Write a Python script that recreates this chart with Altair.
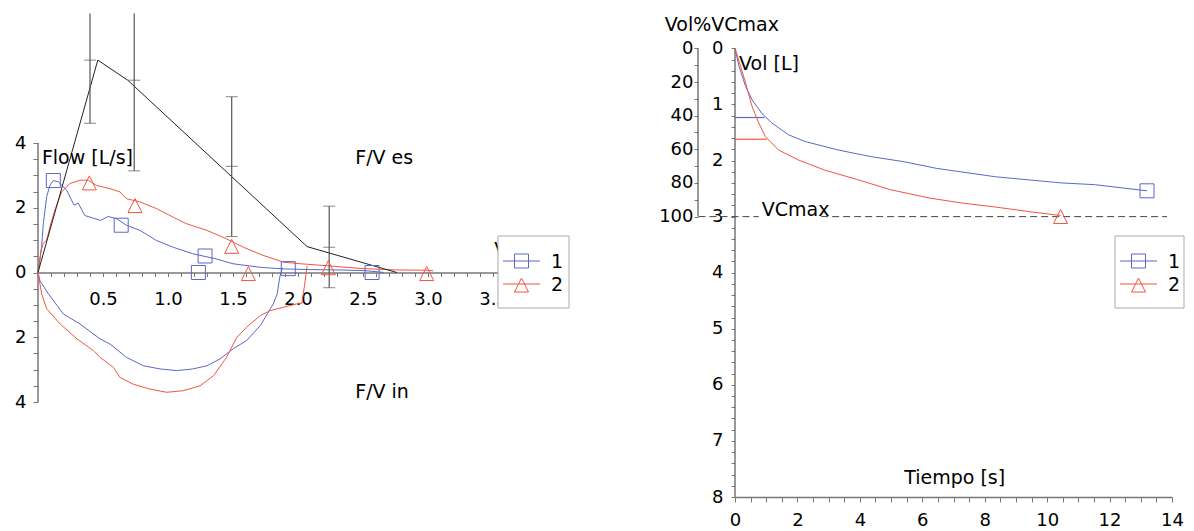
import altair as alt
import pandas as pd

BLUE = "#5b67c9"
RED = "#f2553f"
AXC = "#777777"
FONT = "DejaVu Sans"
TFS = 19

# ---------------- left panel: flow / volume ----------------
b_exp_x = [0, 0.028, 0.041, 0.067, 0.092, 0.118, 0.156, 0.22, 0.277, 0.31, 0.36, 0.48, 0.54, 0.605, 0.68,
           0.785, 0.91, 1.04, 1.19, 1.37, 1.5, 1.71, 1.89, 2.1, 2.3, 2.5, 2.62, 2.66]
b_exp_y = [0, 0.80, 1.52, 2.34, 2.70, 2.84, 2.80, 2.55, 2.08, 2.14, 1.76, 1.61, 1.73, 1.66, 1.46,
           1.30, 0.99, 0.78, 0.58, 0.42, 0.27, 0.16, 0.11, 0.09, 0.08, 0.06, 0.02, 0]
r_exp_x = [0, 0.025, 0.04, 0.067, 0.092, 0.13, 0.182, 0.246, 0.323, 0.387, 0.45, 0.554, 0.63, 0.68, 0.785,
           0.913, 1.04, 1.14, 1.30, 1.45, 1.58, 1.73, 1.89, 2.02, 2.25, 2.5, 2.75, 3.0, 3.04]
r_exp_y = [0, 0.70, 0.90, 1.00, 1.41, 1.93, 2.49, 2.75, 2.85, 2.85, 2.69, 2.59, 2.49, 2.28, 2.18,
           1.97, 1.71, 1.51, 1.30, 1.04, 0.78, 0.53, 0.32, 0.27, 0.20, 0.12, 0.08, 0.07, 0.05]
b_ins_x = [0, 0.015, 0.08, 0.195, 0.323, 0.477, 0.554, 0.68, 0.81, 0.94, 1.067, 1.19, 1.30, 1.40, 1.50,
           1.605, 1.71, 1.81, 1.84, 1.86, 1.88]
b_ins_y = [0, -0.25, -0.66, -1.28, -1.59, -2.05, -2.21, -2.62, -2.88, -2.98, -3.03, -2.98, -2.88, -2.67, -2.36,
           -2.10, -1.64, -0.97, -0.66, -0.14, 0.15]
r_ins_x = [0, 0.028, 0.067, 0.17, 0.30, 0.425, 0.477, 0.58, 0.63, 0.733, 0.86, 0.99, 1.12, 1.246, 1.35,
           1.45, 1.53, 1.605, 1.71, 1.785, 1.89, 1.99, 2.03, 2.05, 2.07]
r_ins_y = [0, -0.66, -1.12, -1.59, -2.05, -2.41, -2.62, -2.93, -3.24, -3.45, -3.60, -3.70, -3.65, -3.50, -3.19,
           -2.62, -2.00, -1.69, -1.33, -1.18, -1.07, -0.97, -0.95, -0.40, 0.20]
ref_x = [0, 0.46, 0.69, 2.07, 2.76]
ref_y = [0, 6.56, 5.94, 0.80, 0]
eb_x = [0.40, 0.74, 1.49, 2.24]
eb_lo = [4.61, 3.14, 1.11, -0.47]
eb_hi = [8.0, 8.0, 5.43, 2.05]
cap_x = [0.40, 0.40, 0.74, 0.74, 1.49, 1.49, 1.49, 2.24, 2.24, 2.24]
cap_y = [6.56, 4.61, 5.94, 3.14, 5.43, 3.28, 1.11, 2.05, 0.78, -0.47]
b_mk_x = [0.118, 0.64, 1.285, 1.234, 1.925, 2.57]
b_mk_y = [2.84, 1.46, 0.51, 0.0, 0.12, 0.0]
r_mk_x = [0.395, 0.746, 1.49, 1.618, 2.233, 2.99]
r_mk_y = [2.80, 2.10, 0.84, 0.0, 0.18, 0.0]
left_txt = ["Flow [L/s]", "F/V es", "F/V in", "V"]
left_txt_x = [0.03, 2.44, 2.44, 3.51]
left_txt_y = [3.54, 3.55, -3.69, 0.70]

# ---------------- right panel: volume / time ----------------
b_t = [0, 0.13, 0.34, 0.55, 0.86, 1.18, 1.71, 2.24, 3.29, 4.35, 5.40, 6.46, 8.35, 10.47, 11.52, 13.2]
b_v = [0, 0.32, 0.68, 0.92, 1.16, 1.33, 1.54, 1.66, 1.81, 1.93, 2.02, 2.14, 2.29, 2.40, 2.43, 2.54]
r_t = [0, 0.18, 0.34, 0.55, 0.76, 0.97, 1.39, 2.03, 2.87, 3.92, 4.98, 6.24, 7.3, 8.35, 9.41, 10.43]
r_v = [0, 0.32, 0.62, 1.04, 1.33, 1.57, 1.81, 1.99, 2.17, 2.34, 2.52, 2.67, 2.76, 2.83, 2.91, 2.98]
b_end = (13.2, 2.54)
r_end = (10.43, 2.98)
fev_t = [0.95, 1.02]
fev_v = [1.233, 1.62]
fev_c = [BLUE, RED]
vc_x0 = [-1.17, 2.76]
vc_x1 = [0.76, 13.84]
vc_v = 3.0
right_txt = ["Vol [L]", "VCmax", "Tiempo [s]", "Vol%VCmax"]
right_txt_t = [0.13, 0.86, 5.42, -2.25]
right_txt_v = [0.27, 2.88, 7.67, -0.42]

series = ["1", "2"]
series_col = [BLUE, RED]

P_TRI = "M0,-0.85L1,1.15H-1Z"
series_shape = ["square", P_TRI]


def pts(xs, ys, shape, col, X, Y):
    return alt.Chart(pd.DataFrame({"x": xs, "y": ys})).mark_point(
        shape=shape, size=196, filled=False, color=col, strokeWidth=1, opacity=1).encode(x=X(), y=Y())


def legend_layers(x0, y0, w):
    """Boxed legend (line + marker + label) drawn inside a panel, offsets in px from plot origin."""
    one = pd.DataFrame({"k": [0]})
    out = [alt.Chart(one).mark_rect(fill="white", stroke="#aaaaaa", strokeWidth=1).encode(
        x=alt.value(x0), x2=alt.value(x0 + w), y=alt.value(y0), y2=alt.value(y0 + 72))]
    for i, (lab, col, shp) in enumerate(zip(series, series_col, series_shape)):
        yy = y0 + 25 + 23 * i
        out.append(alt.Chart(one).mark_rule(color=col, strokeWidth=1).encode(
            x=alt.value(x0 + 5), x2=alt.value(x0 + 42), y=alt.value(yy)))
        out.append(alt.Chart(one).mark_point(shape=shp, size=196, filled=False, color=col,
                                             strokeWidth=1, opacity=1).encode(
            x=alt.value(x0 + 23.5), y=alt.value(yy)))
        out.append(alt.Chart(pd.DataFrame({"t": [lab]})).mark_text(
            font=FONT, fontSize=TFS, color="black", align="center", baseline="middle").encode(
            x=alt.value(x0 + 59), y=alt.value(yy + 1), text="t:N"))
    return out


# ---- left scales / axes
xsL = alt.Scale(domain=[0, 3.6], nice=False, zero=False)
ysL = alt.Scale(domain=[-4, 8.17], nice=False, zero=False)
axXL = alt.Axis(values=[round(0.1 * i, 1) for i in range(37)],
                labelExpr="(datum.value > 0.01 && abs(datum.value*2 - round(datum.value*2)) < 0.001) ? format(datum.value, '.1f') : ''",
                tickSize=4, labelPadding=14, offset=-129.5, domainColor=AXC, domainWidth=1.5, tickColor=AXC,
                labelOverlap=False, labelFlush=False, grid=False, title=None)
axYL = alt.Axis(values=[-4 + 0.5 * i for i in range(17)],
                labelExpr="datum.value % 2 == 0 ? format(abs(datum.value), 'd') : ''",
                tickSize=5, labelPadding=7, domain=False, tickColor=AXC, labelOverlap=False,
                labelFlush=False, grid=False, title=None)


def XL(f="x"):
    return alt.X(f"{f}:Q", scale=xsL, axis=axXL)


def YL(f="y"):
    return alt.Y(f"{f}:Q", scale=ysL, axis=axYL)


def line_df(xs, ys):
    return pd.DataFrame({"x": xs, "y": ys, "i": list(range(len(xs)))})


dom_L = alt.Chart(pd.DataFrame({"x": [0], "y": [-4], "y2": [4]})).mark_rule(color=AXC, strokeWidth=1.5).encode(
    x=XL(), y=YL(), y2="y2:Q")
lines_L = []
for xs, ys, c in [(b_exp_x, b_exp_y, BLUE), (r_exp_x, r_exp_y, RED), (b_ins_x, b_ins_y, BLUE),
                  (r_ins_x, r_ins_y, RED), (ref_x, ref_y, "#222222")]:
    lines_L.append(alt.Chart(line_df(xs, ys)).mark_line(color=c, strokeWidth=1).encode(
        x=XL(), y=YL(), order="i:Q"))
eb = alt.Chart(pd.DataFrame({"x": eb_x, "y": eb_lo, "y2": eb_hi})).mark_rule(color="#555555", strokeWidth=1.2).encode(
    x=XL(), y=YL(), y2="y2:Q")
caps = alt.Chart(pd.DataFrame({"x": cap_x, "y": cap_y})).mark_tick(
    orient="horizontal", size=12, thickness=1, color="#555555").encode(x=XL(), y=YL())
mk_b_L = pts(b_mk_x, b_mk_y, "square", BLUE, XL, YL)
mk_r_L = pts(r_mk_x, r_mk_y, P_TRI, RED, XL, YL)
txt_L = alt.Chart(pd.DataFrame({"x": left_txt_x, "y": left_txt_y, "t": left_txt})).mark_text(
    align="left", baseline="middle", font=FONT, fontSize=TFS, color="black").encode(x=XL(), y=YL(), text="t:N")

left = alt.layer(dom_L, *lines_L, eb, caps, mk_b_L, mk_r_L, txt_L, *legend_layers(460, 228, 71)).properties(
    width=468, height=394)

# ---- right scales / axes
xsR = alt.Scale(domain=[0, 14], nice=False, zero=False)
ysR = alt.Scale(domain=[-0.72, 8], reverse=True, nice=False, zero=False)
axXR = alt.Axis(values=[0.5 * i for i in range(29)],
                labelExpr="datum.value % 2 == 0 ? format(datum.value, 'd') : ''",
                tickSize=5, labelPadding=9, domainColor=AXC, domainWidth=1.5, tickColor=AXC,
                labelOverlap=False, labelFlush=False, grid=False, title=None)
axYR = alt.Axis(values=[round(0.2 * i, 1) for i in range(41)],
                labelExpr="abs(datum.value - round(datum.value)) < 0.001 ? format(datum.value, 'd') : ''",
                tickSize=4, labelPadding=8, domain=False, tickColor=AXC, labelOverlap=False,
                labelFlush=False, grid=False, title=None)


def XR(f="x"):
    return alt.X(f"{f}:Q", scale=xsR, axis=axXR)


def YR(f="y"):
    return alt.Y(f"{f}:Q", scale=ysR, axis=axYR)


dom_R = alt.Chart(pd.DataFrame({"x": [0], "y": [0], "y2": [8]})).mark_rule(color=AXC, strokeWidth=1.5).encode(
    x=XR(), y=YR(), y2="y2:Q")
vc = alt.Chart(pd.DataFrame({"x": vc_x0, "x2": vc_x1, "y": [vc_v, vc_v]})).mark_rule(
    color="#444444", strokeWidth=1, strokeDash=[7, 4]).encode(x=XR(), x2="x2:Q", y=YR())
fev = alt.Chart(pd.DataFrame({"x": [0, 0], "x2": fev_t, "y": fev_v, "c": fev_c})).mark_rule(strokeWidth=1.2).encode(
    x=XR(), x2="x2:Q", y=YR(), color=alt.Color("c:N", scale=None))
lines_R = []
for xs, ys, c in [(b_t, b_v, BLUE), (r_t, r_v, RED)]:
    lines_R.append(alt.Chart(line_df(xs, ys)).mark_line(color=c, strokeWidth=1).encode(
        x=XR(), y=YR(), order="i:Q"))
mk_b_R = pts([b_end[0]], [b_end[1]], "square", BLUE, XR, YR)
mk_r_R = pts([r_end[0]], [r_end[1]], P_TRI, RED, XR, YR)
txt_R = alt.Chart(pd.DataFrame({"x": right_txt_t, "y": right_txt_v, "t": right_txt})).mark_text(
    align="left", baseline="middle", font=FONT, fontSize=TFS, color="black").encode(x=XR(), y=YR(), text="t:N")

inner_R = alt.layer(dom_R, vc, fev, *lines_R, mk_b_R, mk_r_R, txt_R, *legend_layers(380, 228, 69))

axPct = alt.Axis(values=list(range(0, 101, 10)), orient="left", offset=37,
                 labelExpr="datum.value % 20 == 0 ? format(datum.value, 'd') : ''",
                 tickSize=4, labelPadding=1, domain=False, tickColor=AXC, labelOverlap=False,
                 labelFlush=False, grid=False, title=None)
pct = alt.Chart(pd.DataFrame({"p0": [0], "p1": [100]})).mark_rule(color=AXC, strokeWidth=1.5).encode(
    x=alt.value(-37),
    y=alt.Y("p0:Q", scale=alt.Scale(domain=[-24, 266.667], reverse=True, nice=False, zero=False), axis=axPct),
    y2="p1:Q")

right = alt.layer(inner_R, pct).resolve_scale(y="independent").properties(width=437, height=489)

chart = alt.hconcat(left, right, spacing=88).properties(
    padding={"left": 6, "top": 0, "right": 0, "bottom": 0}).configure_view(stroke=None).configure_axis(
    labelFont=FONT, labelFontSize=18, labelColor="black", tickWidth=1)

chart.save("out.html", embed_options={"renderer": "svg", "actions": False})
